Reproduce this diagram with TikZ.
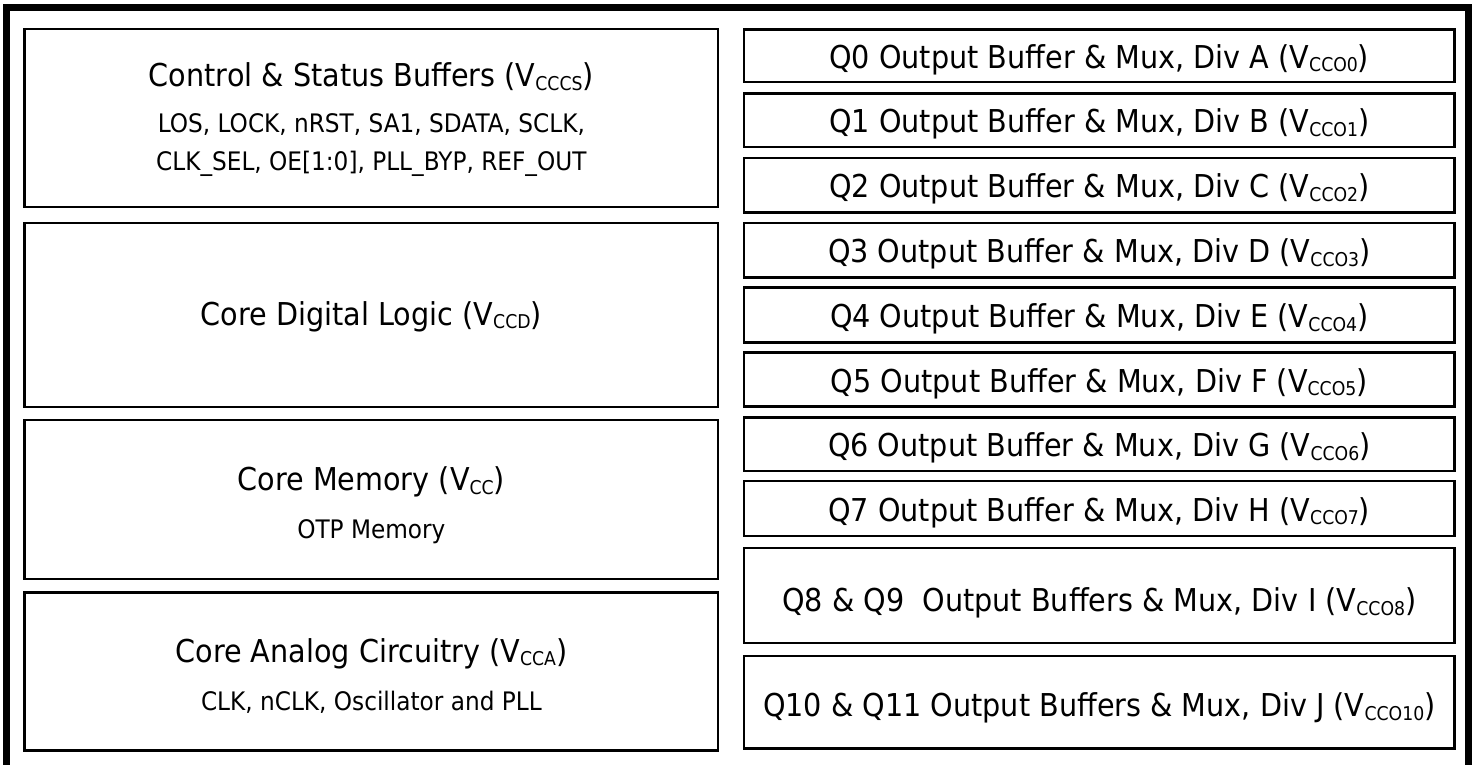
\documentclass[tikz,border=0pt]{standalone}
\usepackage{fontspec}
\setmainfont{DejaVu Sans}[FakeStretch=0.91]
\newcommand\subs[1]{\raisebox{-3.5pt}{\fontsize{19}{19}\selectfont #1}}
\tikzset{
  boxst/.style={draw=black, line width=2.5pt, inner sep=0pt, fill=none},
  bigt/.style={anchor=base, inner sep=0pt, font=\fontsize{31.5}{31.5}\selectfont},
  smallt/.style={anchor=base, inner sep=0pt, font=\fontsize{25.5}{25.5}\selectfont},
}
\begin{document}
\begin{tikzpicture}[x=1pt, y=-1pt]
\useasboundingbox (0,0) rectangle (1475,765);
\fill[white] (0,0) rectangle (1475,765);
% outer frame
\draw[line width=6.7pt] (6.7,7.5) rectangle (1468.3,790);
% left column boxes
\node[boxst, minimum width=693.3pt, minimum height=178.2pt] (ctrl) at (371.35,117.9) {};
\node[boxst, minimum width=693.3pt, minimum height=184pt] (dig) at (371.35,315) {};
\node[boxst, minimum width=693.3pt, minimum height=159pt] (mem) at (371.35,499.5) {};
\node[boxst, minimum width=693.3pt, minimum height=158pt] (ana) at (371.35,671.5) {};
% right column boxes
\node[boxst, minimum width=710.5pt, minimum height=52.5pt] (q0) at (1099.25,55.75) {};
\node[boxst, minimum width=710.5pt, minimum height=53.5pt] (q1) at (1099.25,120.25) {};
\node[boxst, minimum width=710.5pt, minimum height=54.5pt] (q2) at (1099.25,185.25) {};
\node[boxst, minimum width=710.5pt, minimum height=54.5pt] (q3) at (1099.25,250.25) {};
\node[boxst, minimum width=710.5pt, minimum height=55pt] (q4) at (1099.25,315) {};
\node[boxst, minimum width=710.5pt, minimum height=54pt] (q5) at (1099.25,379.5) {};
\node[boxst, minimum width=710.5pt, minimum height=53.5pt] (q6) at (1099.25,444.25) {};
\node[boxst, minimum width=710.5pt, minimum height=55pt] (q7) at (1099.25,508.5) {};
\node[boxst, minimum width=710.5pt, minimum height=95pt] (q8) at (1099.25,595.5) {};
\node[boxst, minimum width=710.5pt, minimum height=92.5pt] (q10) at (1099.25,702.25) {};
% left texts
\node[bigt] (ctrlA) at (371.35,87) {Control \& Status Buffers (V\subs{CCCS})};
\node[smallt] (ctrlB) at (371.35,133) {LOS, LOCK, nRST, SA1, SDATA, SCLK,};
\node[smallt] (ctrlC) at (371.35,170) {CLK\_SEL, OE[1:0], PLL\_BYP, REF\_OUT};
\node[bigt] (digA) at (371.35,325) {Core Digital Logic (V\subs{CCD})};
\node[bigt] (memA) at (371.35,490.7) {Core Memory (V\subs{CC})};
\node[smallt] (memB) at (371.35,538) {OTP Memory};
\node[bigt] (anaA) at (371.35,662) {Core Analog Circuitry (V\subs{CCA})};
\node[smallt] (anaB) at (371.35,710) {CLK, nCLK, Oscillator and PLL};
% right texts
\node[bigt] (q0t) at (1099.25,68.25) {Q0 Output Buffer \& Mux, Div A (V\subs{CCO0})};
\node[bigt] (q1t) at (1099.25,132.75) {Q1 Output Buffer \& Mux, Div B (V\subs{CCO1})};
\node[bigt] (q2t) at (1099.25,197.75) {Q2 Output Buffer \& Mux, Div C (V\subs{CCO2})};
\node[bigt] (q3t) at (1099.25,262.75) {Q3 Output Buffer \& Mux, Div D (V\subs{CCO3})};
\node[bigt] (q4t) at (1099.25,327.5) {Q4 Output Buffer \& Mux, Div E (V\subs{CCO4})};
\node[bigt] (q5t) at (1099.25,392) {Q5 Output Buffer \& Mux, Div F (V\subs{CCO5})};
\node[bigt] (q6t) at (1099.25,456.75) {Q6 Output Buffer \& Mux, Div G (V\subs{CCO6})};
\node[bigt] (q7t) at (1099.25,521) {Q7 Output Buffer \& Mux, Div H (V\subs{CCO7})};
\node[bigt] (q8t) at (1099.25,611.5) {Q8 \& Q9\ \ Output Buffers \& Mux, Div I (V\subs{CCO8})};
\node[bigt] (q10t) at (1099.25,716.5) {Q10 \& Q11 Output Buffers \& Mux, Div J (V\subs{CCO10})};
\end{tikzpicture}
\end{document}
